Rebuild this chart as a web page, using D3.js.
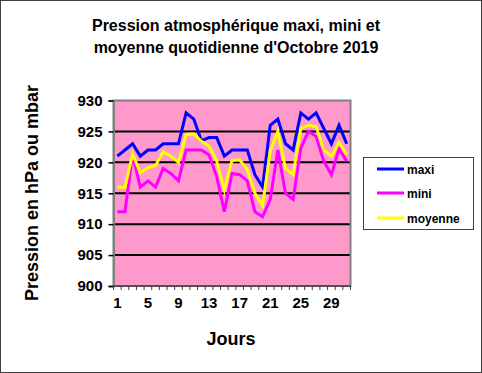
<!DOCTYPE html>
<html>
<head>
<meta charset="utf-8">
<script src="https://cdn.jsdelivr.net/npm/d3@7"></script>
<style>
html,body{margin:0;padding:0;background:#fff;}
svg{display:block;}
text{font-family:"Liberation Sans",Arial,sans-serif;font-weight:bold;fill:#000;}
</style>
</head>
<body>
<script>
const days = d3.range(1, 32);
const maxi = [921,922,923,921,922,922,923,923,923,928,927,923.5,924,924,921,922,922,922,918,916,926,927,923,922,928,927,928,925.5,923,926,923];
const mini = [912,912,921.3,916,917,916,919,918.2,917,922,922,922,921.2,917.7,912,918.2,918,917,912,911.2,914,922,915,914,922.3,925,924.2,920.2,918,922.2,920.2];
const moyenne = [916,915.9,921.4,918.3,919.1,919.5,921.7,921,920,924.5,924.6,923.4,922.6,920.2,915.5,920.3,920.4,918.8,915,913,921.8,925,919,918,925.5,926,925.8,922,921,923.2,921.2];
const yTicks = [900,905,910,915,920,925,930];
const xTickLabels = [1,5,9,13,17,21,25,29];
const seriesNames = ["maxi","mini","moyenne"];
const seriesColors = ["#0000FF","#FF00FF","#FFFF00"];
const seriesData = [maxi, mini, moyenne];

const W = 482, H = 373;
const svg = d3.select("body").append("svg").attr("width", W).attr("height", H);

// outer border
svg.append("rect").attr("x",0.5).attr("y",0.5).attr("width",W-1).attr("height",H-1)
  .attr("fill","#fff").attr("stroke","#404040").attr("stroke-width",1);

const L = 113.5, R = 350.5, T = 100.5, B = 286;
const x = d3.scaleBand().domain(days).range([L, R]).paddingInner(0).paddingOuter(0);
const y = d3.scaleLinear().domain([900, 930]).range([B, T]);

// plot background
svg.append("rect").attr("x",L).attr("y",T).attr("width",R-L).attr("height",B-T).attr("fill","#FF99CC");

// gridlines
svg.append("g").selectAll("line").data(yTicks.filter(v => v>900 && v<930)).join("line")
  .attr("x1",L).attr("x2",R).attr("y1",d=>y(d)).attr("y2",d=>y(d))
  .attr("stroke","#000").attr("stroke-width",2);

// border
svg.append("rect").attr("x",L).attr("y",T).attr("width",R-L).attr("height",B-T)
  .attr("fill","none").attr("stroke","#808080").attr("stroke-width",2);

// series lines
const line = d3.line().x((d,i)=>x(days[i]) + x.bandwidth()/2).y(d=>y(d));
seriesData.forEach((s, k) => {
  svg.append("path").datum(s).attr("d", line).attr("fill","none")
    .attr("stroke", seriesColors[k]).attr("stroke-width",3).attr("stroke-linejoin","miter");
});

// y axis
const yAxis = d3.axisLeft(y).tickValues(yTicks).tickSize(5).tickPadding(6).tickFormat(d3.format("d"));
const gy = svg.append("g").attr("transform",`translate(${L},0)`).call(yAxis);
gy.select(".domain").attr("stroke","#808080").attr("stroke-width",2);
gy.selectAll(".tick line").attr("stroke","#000").attr("stroke-width",1.5);
gy.selectAll(".tick text").style("font-size","15px").style("font-weight","bold")
  .style("font-family","'Liberation Sans',Arial,sans-serif").attr("fill","#000");

// x axis: minor ticks at category boundaries
const xb = svg.append("g");
xb.append("line").attr("x1",L).attr("x2",R).attr("y1",B).attr("y2",B).attr("stroke","#404040").attr("stroke-width",1.5);
const bounds = days.map(d=>x(d)).concat([R]);
xb.selectAll("line.t").data(bounds).join("line").attr("class","t")
  .attr("x1",d=>d).attr("x2",d=>d).attr("y1",B).attr("y2",B+4).attr("stroke","#404040").attr("stroke-width",1);
xb.selectAll("text").data(xTickLabels).join("text")
  .attr("x",d=>x(d)+x.bandwidth()/2).attr("y",308).attr("text-anchor","middle")
  .style("font-size","15px").text(d=>d);

// axis titles
svg.append("text").attr("x",231).attr("y",345).attr("text-anchor","middle").style("font-size","18px").text("Jours");
svg.append("text").attr("transform","translate(38,193) rotate(-90)").attr("text-anchor","middle")
  .style("font-size","18px").text("Pression en hPa ou mbar");

// title
svg.append("text").attr("x",236).attr("y",31).attr("text-anchor","middle").style("font-size","16px").text("Pression atmosphérique maxi, mini et");
svg.append("text").attr("x",236).attr("y",53).attr("text-anchor","middle").style("font-size","16px").text("moyenne quotidienne d'Octobre 2019");

// legend
const lg = svg.append("g");
lg.append("rect").attr("x",363.5).attr("y",157.5).attr("width",110).attr("height",72)
  .attr("fill","#fff").attr("stroke","#404040").attr("stroke-width",1);
const lgY = [169,193,218];
seriesNames.forEach((n,k)=>{
  lg.append("line").attr("x1",377).attr("x2",404).attr("y1",lgY[k]).attr("y2",lgY[k])
    .attr("stroke",seriesColors[k]).attr("stroke-width",3);
  lg.append("text").attr("x",407).attr("y",lgY[k]+4.5).style("font-size","12px").text(n);
});
</script>
</body>
</html>
